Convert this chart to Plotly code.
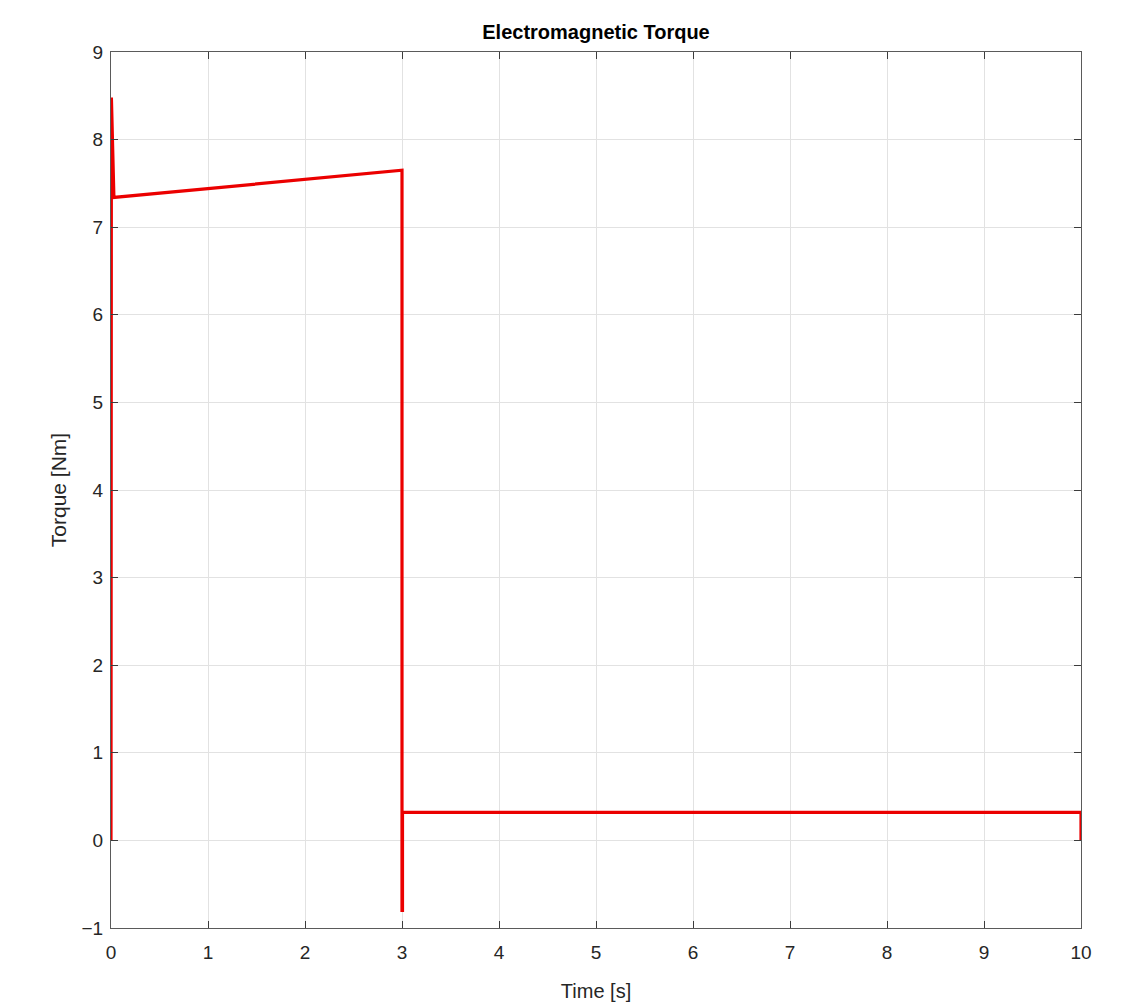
import plotly.graph_objects as go

time_s = [0.0, 0.004, 0.006, 0.03, 1.0, 2.0, 3.0, 3.0, 3.005, 3.005, 3.02, 10.0, 10.0]
torque_nm = [0.0, 8.48, 8.40, 7.34, 7.44, 7.54, 7.65, -0.80, -0.80, 0.32, 0.32, 0.32, 0.0]

x_ticks = list(range(0, 11))
y_ticks = list(range(-1, 10))

font_family = "Liberation Sans, Arial, sans-serif"

fig = go.Figure()
fig.add_trace(go.Scatter(
    x=time_s, y=torque_nm, mode="lines",
    line=dict(color="rgb(235,0,0)", width=3.2),
    showlegend=False,
))

axis_common = dict(
    showline=True, linecolor="rgb(90,90,90)", linewidth=1,
    mirror="ticks", ticks="inside", ticklen=7, tickcolor="rgb(60,60,60)",
    showgrid=True, gridcolor="rgb(226,226,226)", gridwidth=1,
    zeroline=False, automargin=False,
    tickfont=dict(family=font_family, size=19, color="rgb(38,38,38)"),
)

fig.update_layout(
    width=1121, height=996,
    paper_bgcolor="white", plot_bgcolor="white",
    margin=dict(l=103, r=48, t=44, b=76, autoexpand=False),
    title=dict(
        text="<b>Electromagnetic Torque</b>",
        font=dict(family=font_family, size=20, color="black"),
        x=0.5, xref="paper", xanchor="center",
        y=1.0, yref="paper", yanchor="bottom", pad=dict(b=13),
    ),
    xaxis=dict(
        range=[0, 10], tickvals=x_ticks, ticklabelstandoff=7,
        title=dict(text="Time [s]", font=dict(family=font_family, size=20, color="rgb(38,38,38)"), standoff=22),
        **axis_common,
    ),
    yaxis=dict(
        range=[-1, 9], tickvals=y_ticks, ticklabelstandoff=3,
        title=dict(text="Torque [Nm]", font=dict(family=font_family, size=21, color="rgb(38,38,38)"), standoff=9),
        **axis_common,
    ),
)

fig.write_html("out.html")
